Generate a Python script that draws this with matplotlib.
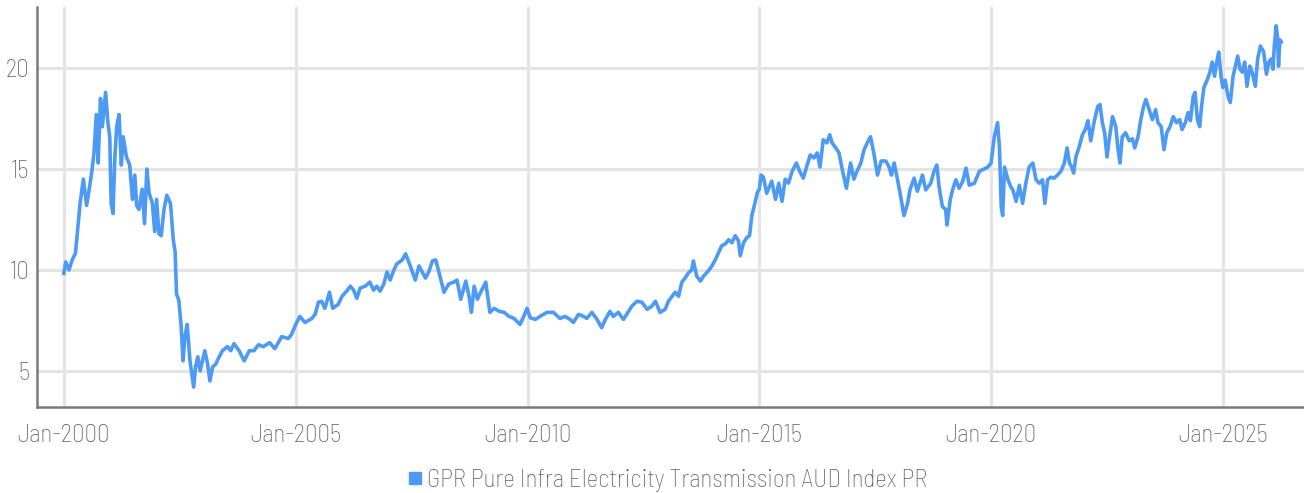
import matplotlib
matplotlib.use('Agg')
import matplotlib.pyplot as plt
import matplotlib.dates as mdates
from matplotlib.lines import Line2D
import numpy as np
import pandas as pd

#%% Data (decimal year, index level)
years_2000 = [2000.00, 2000.04, 2000.11, 2000.18, 2000.25, 2000.29, 2000.35, 2000.42, 2000.49, 2000.56,
              2000.61, 2000.65, 2000.70, 2000.74, 2000.79, 2000.83, 2000.90, 2000.95, 2000.99, 2001.02,
              2001.06, 2001.10, 2001.14, 2001.19, 2001.24, 2001.28, 2001.35, 2001.42, 2001.48, 2001.53,
              2001.57, 2001.62, 2001.69, 2001.74, 2001.79, 2001.84, 2001.91, 2001.96, 2002.00, 2002.05,
              2002.10, 2002.16, 2002.22, 2002.30, 2002.36, 2002.40, 2002.43, 2002.48, 2002.53, 2002.57,
              2002.61, 2002.66, 2002.72, 2002.76, 2002.80, 2002.84, 2002.89, 2002.94, 2002.99, 2003.04,
              2003.10, 2003.15, 2003.21, 2003.28, 2003.35, 2003.42, 2003.53, 2003.60, 2003.67, 2003.78,
              2003.89, 2004.00, 2004.10, 2004.20]
level_2000 = [9.83, 10.4, 10.0, 10.5, 10.83, 11.8, 13.3, 14.5, 13.2, 14.2,
              15.0, 15.8, 17.7, 15.3, 18.5, 17.1, 18.8, 17.3, 16.6, 13.3,
              12.8, 15.6, 17.1, 17.7, 15.2, 16.6, 15.6, 15.2, 13.5, 14.7,
              13.2, 13.0, 14.0, 12.3, 15.0, 13.8, 13.3, 11.9, 13.5, 11.8,
              11.7, 13.0, 13.7, 13.3, 11.5, 10.9, 8.8, 8.5, 7.2, 5.5,
              6.7, 7.3, 5.5, 4.85, 4.2, 5.2, 5.7, 5.0, 5.5, 6.0,
              5.35, 4.5, 5.2, 5.35, 5.7, 6.0, 6.2, 6.0, 6.35, 6.0,
              5.5, 6.0, 6.0, 6.3]

years_2004 = [2004.30, 2004.44, 2004.55, 2004.70, 2004.84, 2004.91, 2005.00, 2005.09, 2005.20, 2005.35,
              2005.42, 2005.49, 2005.56, 2005.63, 2005.73, 2005.80, 2005.92, 2006.00, 2006.10, 2006.18,
              2006.25, 2006.32, 2006.39, 2006.50, 2006.60, 2006.68, 2006.75, 2006.82, 2006.90, 2006.97,
              2007.04, 2007.11, 2007.18, 2007.30, 2007.37, 2007.44, 2007.51, 2007.58, 2007.66, 2007.73,
              2007.80, 2007.87, 2007.95, 2008.02, 2008.09, 2008.20, 2008.30, 2008.41, 2008.48, 2008.56,
              2008.67, 2008.74, 2008.79, 2008.85, 2008.92, 2008.99, 2009.10, 2009.19, 2009.28, 2009.39,
              2009.50, 2009.60, 2009.71, 2009.84, 2009.92, 2009.99]
level_2004 = [6.2, 6.4, 6.1, 6.7, 6.6, 6.8, 7.3, 7.7, 7.4, 7.6,
              7.8, 8.4, 8.45, 8.1, 8.9, 8.1, 8.3, 8.7, 8.95, 9.2,
              9.0, 8.6, 9.1, 9.2, 9.4, 9.0, 9.2, 8.95, 9.3, 9.9,
              9.5, 9.95, 10.3, 10.5, 10.8, 10.4, 9.95, 9.5, 10.2, 9.9,
              9.6, 9.9, 10.45, 10.5, 9.9, 8.9, 9.3, 9.4, 9.5, 8.55,
              9.45, 8.7, 7.9, 9.2, 8.55, 8.9, 9.4, 7.9, 8.1, 7.95,
              7.9, 7.7, 7.6, 7.3, 7.7, 8.1]

years_2010 = [2010.06, 2010.17, 2010.27, 2010.42, 2010.56, 2010.70, 2010.81, 2010.92, 2010.99, 2011.10,
              2011.21, 2011.28, 2011.39, 2011.50, 2011.60, 2011.68, 2011.78, 2011.85, 2011.96, 2012.07,
              2012.14, 2012.25, 2012.36, 2012.47, 2012.58, 2012.68, 2012.76, 2012.86, 2012.97, 2013.04,
              2013.12, 2013.19, 2013.26, 2013.33, 2013.40, 2013.47, 2013.54, 2013.58, 2013.65, 2013.73,
              2013.80, 2013.90, 2013.98, 2014.05, 2014.12, 2014.19, 2014.27, 2014.34, 2014.41, 2014.48,
              2014.55, 2014.59, 2014.66, 2014.73, 2014.79, 2014.84, 2014.91, 2014.96, 2015.00, 2015.04]
level_2010 = [7.63, 7.55, 7.7, 7.9, 7.9, 7.6, 7.7, 7.55, 7.4, 7.8,
              7.7, 7.6, 7.9, 7.55, 7.14, 7.55, 7.95, 7.7, 7.9, 7.55,
              7.8, 8.2, 8.45, 8.4, 8.05, 8.2, 8.45, 7.9, 8.05, 8.45,
              8.7, 8.9, 8.7, 9.4, 9.6, 9.85, 10.0, 10.45, 9.7, 9.45,
              9.7, 9.95, 10.2, 10.5, 10.85, 11.2, 11.3, 11.5, 11.35, 11.7,
              11.45, 10.7, 11.35, 11.6, 11.7, 12.7, 13.35, 13.85, 14.0, 14.7]

years_2015 = [2015.09, 2015.16, 2015.27, 2015.35, 2015.42, 2015.49, 2015.56, 2015.63, 2015.71, 2015.80,
              2015.87, 2015.95, 2016.02, 2016.10, 2016.18, 2016.25, 2016.31, 2016.38, 2016.46, 2016.52,
              2016.57, 2016.65, 2016.72, 2016.79, 2016.88, 2016.97, 2017.04, 2017.11, 2017.19, 2017.26,
              2017.33, 2017.40, 2017.47, 2017.55, 2017.63, 2017.73, 2017.80, 2017.85, 2017.91, 2017.98,
              2018.05, 2018.12, 2018.20, 2018.25, 2018.34, 2018.41, 2018.52, 2018.59, 2018.70, 2018.77,
              2018.83, 2018.88, 2018.95, 2019.02, 2019.05, 2019.12, 2019.17, 2019.24, 2019.31, 2019.39,
              2019.46, 2019.53, 2019.64, 2019.75, 2019.82, 2019.93, 2020.00, 2020.07, 2020.14, 2020.18,
              2020.22, 2020.25, 2020.29, 2020.36, 2020.43]
level_2015 = [14.6, 13.8, 14.4, 13.5, 14.3, 13.4, 14.5, 14.3, 14.9, 15.3,
              14.9, 14.55, 15.1, 15.7, 15.55, 15.8, 15.1, 16.45, 16.3, 16.7,
              16.3, 16.05, 15.8, 14.97, 14.05, 15.3, 14.5, 14.9, 15.3, 15.95,
              16.3, 16.6, 15.8, 14.7, 15.4, 15.4, 15.1, 14.7, 15.3, 14.5,
              13.64, 12.7, 13.3, 13.97, 14.55, 13.9, 14.7, 13.97, 14.3, 14.9,
              15.2, 14.1, 13.14, 13.0, 12.23, 13.5, 13.97, 14.47, 14.05, 14.4,
              15.05, 14.2, 14.3, 14.9, 14.97, 15.1, 15.3, 16.6, 17.3, 16.1,
              13.1, 12.7, 15.1, 14.5, 14.1]

years_2020 = [2020.47, 2020.54, 2020.61, 2020.68, 2020.75, 2020.82, 2020.90, 2020.97, 2021.04, 2021.11,
              2021.16, 2021.22, 2021.29, 2021.36, 2021.43, 2021.51, 2021.58, 2021.64, 2021.69, 2021.74,
              2021.78, 2021.83, 2021.90, 2021.97, 2022.04, 2022.09, 2022.15, 2022.22, 2022.30, 2022.35,
              2022.40, 2022.45, 2022.50, 2022.55, 2022.62, 2022.69, 2022.74, 2022.78, 2022.83, 2022.90,
              2022.98, 2023.05, 2023.10, 2023.17, 2023.23, 2023.29, 2023.34, 2023.41, 2023.48, 2023.55,
              2023.60, 2023.67, 2023.73, 2023.79, 2023.86, 2023.93, 2024.00, 2024.07, 2024.12, 2024.19,
              2024.25, 2024.30, 2024.36, 2024.40, 2024.45, 2024.50, 2024.54, 2024.59, 2024.66, 2024.72,
              2024.77, 2024.82, 2024.86, 2024.91, 2024.96, 2025.00, 2025.05, 2025.11, 2025.16, 2025.22,
              2025.27, 2025.32, 2025.37, 2025.42, 2025.47, 2025.52, 2025.58, 2025.63, 2025.70, 2025.75,
              2025.81, 2025.88, 2025.94, 2025.99, 2026.04, 2026.08, 2026.11, 2026.15, 2026.18, 2026.20,
              2026.23, 2026.26]
level_2020 = [13.97, 13.4, 14.2, 13.3, 14.3, 15.1, 15.3, 14.47, 14.3, 14.47,
              13.3, 14.47, 14.6, 14.55, 14.7, 14.9, 15.3, 16.05, 15.3, 15.1,
              14.8, 15.6, 16.1, 16.7, 17.0, 17.4, 16.4, 17.3, 18.1, 18.2,
              17.3, 16.8, 15.6, 16.5, 17.6, 17.1, 15.96, 15.3, 16.6, 16.8,
              16.4, 16.5, 16.05, 16.6, 17.45, 18.1, 18.45, 17.95, 17.45, 17.95,
              17.3, 17.1, 15.96, 16.8, 17.1, 17.6, 17.3, 17.45, 16.96, 17.3,
              17.8, 17.4, 18.6, 18.8, 17.45, 17.1, 18.1, 19.04, 19.4, 19.8,
              20.3, 19.6, 20.2, 20.8, 19.6, 19.04, 19.4, 18.6, 18.3, 19.6,
              20.1, 20.6, 19.95, 19.8, 20.3, 19.1, 20.1, 19.8, 19.1, 20.45,
              21.1, 20.8, 19.7, 20.3, 20.45, 19.95, 21.1, 22.1, 21.5, 20.1,
              21.4, 21.3]

series_name = 'GPR Pure Infra Electricity Transmission AUD Index PR'
y_ticks = [5, 10, 15, 20]

#%% Helpers
def to_dates(dec_years):
    dec_years = np.asarray(dec_years)
    base = pd.Timestamp('2000-01-01')
    return base + pd.to_timedelta((dec_years - 2000) * 365.25, unit='D')

years = years_2000 + years_2004 + years_2010 + years_2015 + years_2020
levels = level_2000 + level_2004 + level_2010 + level_2015 + level_2020
dates = to_dates(years)

#%% Plot
plt.rcParams['font.family'] = ['Barlow Semi Condensed', 'Roboto', 'DejaVu Sans']
plt.rcParams['font.weight'] = 'light'
line_col = '#4d9af5'
text_col = '#5e5e5e'
grid_col = '#e4e4e4'

fig = plt.figure(figsize=(13.04, 4.93), dpi=100)
ax = fig.add_axes([0.0280, 0.1744, 0.9720, 0.8114])

ax.plot(dates, levels, color=line_col, linewidth=2.6, solid_joinstyle='round')

ax.set_xlim(to_dates([1999.41])[0], to_dates([2026.75])[0])
ax.set_ylim(3.21, 23.03)
ax.set_yticks(y_ticks)
ax.xaxis.set_major_locator(mdates.YearLocator(5))
ax.xaxis.set_major_formatter(mdates.DateFormatter('%b-%Y'))

ax.grid(True, color=grid_col, linewidth=2.2)
ax.set_axisbelow(True)
ax.tick_params(length=0, labelsize=18, colors=text_col)
ax.tick_params(axis='x', pad=12)
ax.tick_params(axis='y', pad=5)
for s in ['top', 'right']:
    ax.spines[s].set_visible(False)
for s in ['left', 'bottom']:
    ax.spines[s].set_color('#7a7a7a')
    ax.spines[s].set_linewidth(1.8)

handle = Line2D([], [], linestyle='none', marker='s', markersize=8, color=line_col)
fig.legend([handle], [series_name], loc='center', bbox_to_anchor=(0.511, 0.025),
           frameon=False, fontsize=18, labelcolor=text_col, handletextpad=0.1,
           handlelength=0.8)

plt.savefig('out.png', dpi=100)
